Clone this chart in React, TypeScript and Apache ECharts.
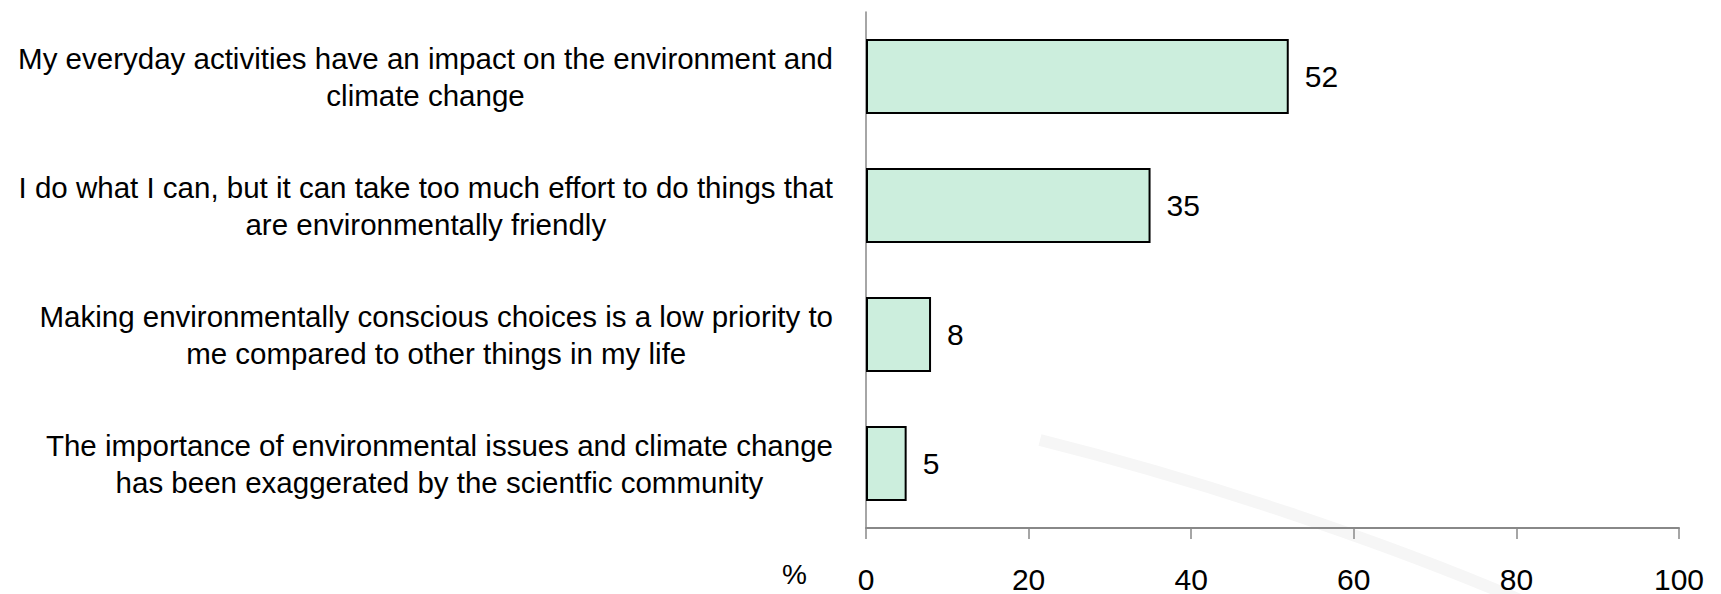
import React, { useEffect, useRef } from "react";
import * as echarts from "echarts";

const categories: string[][] = [
  ["My everyday activities have an impact on the environment and", "climate change"],
  ["I do what I can, but it can take too much effort to do things that", "are environmentally friendly"],
  ["Making environmentally conscious choices is a low priority to", "me compared to other things in my life"],
  ["The importance of environmental issues and climate change", "has been exaggerated by the scientfic community"],
];
const values: number[] = [52, 35, 8, 5];
const axisMin = 0;
const axisMax = 100;
const axisStep = 20;
const unitLabel = "%";

const FONT = "'Liberation Sans Narrow', 'Arial Narrow', 'Liberation Sans', sans-serif";

export default function App() {
  const ref = useRef<HTMLDivElement>(null);
  useEffect(() => {
    document.body.style.margin = "0";
    const chart = echarts.init(ref.current!, null, { renderer: "svg" });
    chart.setOption({
      animation: false,
      backgroundColor: "#ffffff",
      grid: { left: 866, right: 42, top: 12, bottom: 63, containLabel: false },
      xAxis: {
        type: "value",
        min: axisMin,
        max: axisMax,
        interval: axisStep,
        axisLine: { show: true, lineStyle: { color: "#888888", width: 2 } },
        axisTick: { show: true, length: 11, lineStyle: { color: "#888888", width: 1.5 } },
        splitLine: { show: false },
        axisLabel: { color: "#000000", fontFamily: FONT, fontSize: 30, margin: 36 },
      },
      yAxis: {
        type: "category",
        inverse: true,
        data: categories.map((c) => c.join("\n")),
        axisLine: { show: true, lineStyle: { color: "#888888", width: 1.5 } },
        axisTick: { show: false },
        axisLabel: {
          margin: 33,
          align: "right",
          formatter: (v: string) => v.split("\n").map((l) => `{c|${l}}`).join("\n"),
          rich: {
            c: { align: "center", fontFamily: FONT, fontSize: 29.5, color: "#000000", lineHeight: 37 },
          },
        },
      },
      graphic: [
        {
          type: "bezierCurve",
          silent: true,
          z: -10,
          shape: { x1: 1040, y1: 440, x2: 1520, y2: 600, cpx1: 1200, cpy1: 480, cpx2: 1380, cpy2: 540 },
          style: { stroke: "#f6f6f6", lineWidth: 12, fill: "none" },
        },
        {
          type: "text",
          left: 782,
          top: 560,
          style: { text: unitLabel, fontFamily: FONT, fontSize: 28, fill: "#000000" },
        },
      ],
      series: [
        {
          type: "bar",
          data: values,
          barCategoryGap: "42%",
          itemStyle: { color: "#CCEEDD", borderColor: "#000000", borderWidth: 2 },
          label: {
            show: true,
            position: "right",
            distance: 16,
            color: "#000000",
            fontFamily: FONT,
            fontSize: 30,
          },
        },
      ],
    });
    return () => chart.dispose();
  }, []);
  return <div ref={ref} style={{ width: 1721, height: 594 }} />;
}
